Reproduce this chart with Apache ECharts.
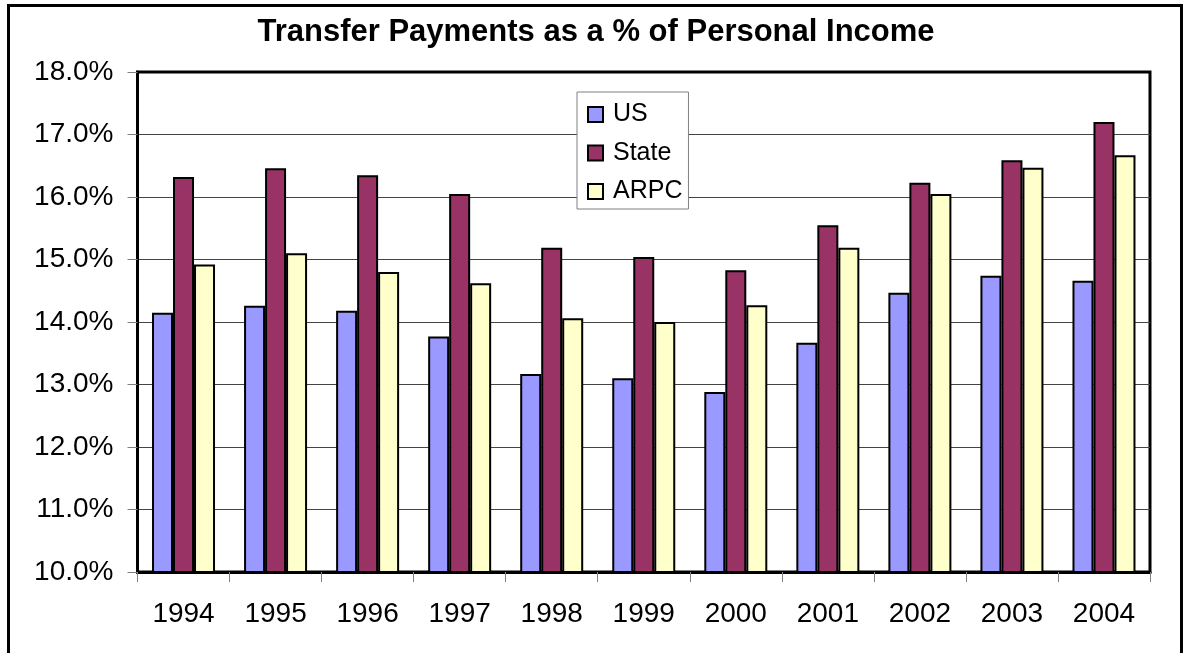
<!DOCTYPE html>
<html>
<head>
<meta charset="utf-8">
<title>Transfer Payments as a % of Personal Income</title>
<script src="https://cdn.jsdelivr.net/npm/echarts@6/dist/echarts.min.js"></script>
<style>
  html, body { margin: 0; padding: 0; background: #ffffff; }
  #chart { width: 1183px; height: 653px; }
</style>
</head>
<body>
<div id="chart"></div>
<script>
// Transfer payments as a share of personal income, by year
const years = ['1994', '1995', '1996', '1997', '1998', '1999', '2000', '2001', '2002', '2003', '2004'];
const usValues    = [14.15, 14.26, 14.18, 13.77, 13.17, 13.10, 12.88, 13.67, 14.47, 14.74, 14.66];
const stateValues = [16.32, 16.46, 16.35, 16.05, 15.19, 15.04, 14.83, 15.55, 16.23, 16.59, 17.20];
const arpcValues  = [14.92, 15.10, 14.80, 14.62, 14.06, 14.00, 14.27, 15.19, 16.05, 16.47, 16.67];
const seriesNames = ['US', 'State', 'ARPC'];
const seriesColors = ['#9999FF', '#993366', '#FFFFCC'];

const FONT = '"Liberation Sans", Arial, sans-serif';

const chart = echarts.init(document.getElementById('chart'), null, { renderer: 'canvas' });

function barSeries(name, values, color) {
  return {
    name: name,
    type: 'bar',
    data: values,
    barWidth: 21,
    barGap: '0%',
    itemStyle: { color: color, borderColor: '#000000', borderWidth: 2 },
    emphasis: { disabled: true }
  };
}

chart.setOption({
  backgroundColor: '#ffffff',
  animation: false,
  textStyle: { fontFamily: FONT },
  title: {
    text: 'Transfer Payments as a % of Personal Income',
    left: 596,
    textAlign: 'center',
    top: 17,
    padding: 0,
    textStyle: { fontFamily: FONT, fontSize: 31, fontWeight: 'bold', color: '#000000' }
  },
  legend: {
    orient: 'vertical',
    left: 577,
    top: 92,
    padding: [10, 6, 5, 10],
    itemWidth: 15,
    itemHeight: 15,
    itemGap: 13.5,
    icon: 'rect',
    backgroundColor: '#ffffff',
    borderColor: '#808080',
    borderWidth: 1,
    selectedMode: false,
    data: seriesNames,
    itemStyle: { borderColor: '#000000', borderWidth: 2 },
    textStyle: { fontFamily: FONT, fontSize: 25, color: '#000000', padding: [0, 0, 0, 5] }
  },
  grid: { left: 137.5, right: 33, top: 72, bottom: 81, containLabel: false,
          show: true, borderColor: '#000000', borderWidth: 3 },
  xAxis: {
    type: 'category',
    data: years,
    axisLine: { show: true, lineStyle: { color: '#000000', width: 3 } },
    axisTick: { show: true, alignWithLabel: false, length: 10, lineStyle: { color: '#808080', width: 1 } },
    axisLabel: { margin: 28, fontFamily: FONT, fontSize: 28, color: '#000000' },
    splitLine: { show: false }
  },
  yAxis: {
    type: 'value',
    min: 10,
    max: 18,
    interval: 1,
    axisLine: { show: true, lineStyle: { color: '#000000', width: 3 } },
    axisTick: { show: true, length: 10, lineStyle: { color: '#808080', width: 1 } },
    axisLabel: {
      margin: 24,
      fontFamily: FONT,
      fontSize: 28,
      color: '#000000',
      formatter: function (v) { return v.toFixed(1) + '%'; }
    },
    splitLine: { show: true, showMaxLine: false, lineStyle: { color: '#444444', width: 1 } }
  },
  series: [
    barSeries(seriesNames[0], usValues, seriesColors[0]),
    barSeries(seriesNames[1], stateValues, seriesColors[1]),
    barSeries(seriesNames[2], arpcValues, seriesColors[2])
  ],
  graphic: [
    {
      type: 'rect',
      silent: true,
      z: 100,
      shape: { x: 8.5, y: 5.5, width: 1173, height: 670 },
      style: { fill: null, stroke: '#000000', lineWidth: 3 }
    }
  ]
});
</script>
</body>
</html>
